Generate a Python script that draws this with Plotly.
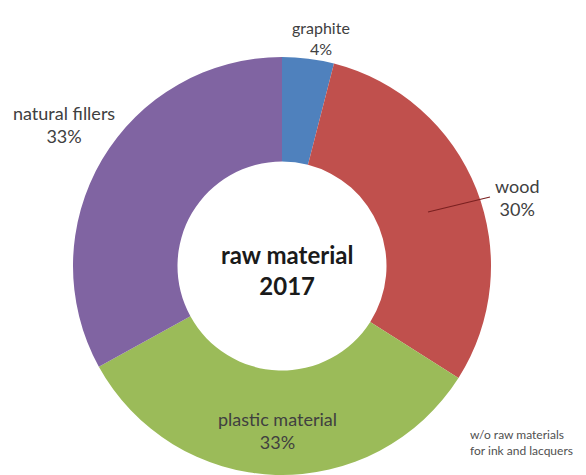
import plotly.graph_objects as go

labels = ["graphite", "wood", "plastic material", "natural fillers"]
values = [4, 30, 33, 33]
colors = ["#4F81BD", "#C0504D", "#9BBB59", "#8064A2"]
center_lines = ["raw material", "2017"]
note_lines = ["w/o raw materials", "for ink and lacquers"]

# label centre positions in pixels (x, y between the two lines)
label_pos = [(321, 38), (517, 197), (277, 430), (64, 125)]
label_size = [16, 18, 18, 18]

W, H = 586, 475
cx, cy, R = 282, 266, 209

fig = go.Figure(go.Pie(
    labels=labels, values=values, sort=False, direction="clockwise", rotation=0,
    hole=0.5, marker=dict(colors=colors, line=dict(width=0)),
    textinfo="none", hoverinfo="label+percent", showlegend=False,
    domain=dict(x=[(cx - R) / W, (cx + R) / W], y=[max(0, (H - cy - R) / H), (H - cy + R) / H]),
))

font = "Lato, 'Open Sans', sans-serif"
anns = []
total = sum(values)
for lab, val, (px, py), fs in zip(labels, values, label_pos, label_size):
    pct = round(100 * val / total)
    anns.append(dict(x=px / W, y=1 - py / H, xref="paper", yref="paper",
                     text=f"{lab}<br>{pct}%", showarrow=False,
                     font=dict(family=font, size=fs, color="#404040"),
                     xanchor="center", yanchor="middle", align="center"))

anns.append(dict(x=287 / W, y=1 - 270 / H, xref="paper", yref="paper",
                 text="<b>" + "<br>".join(center_lines) + "</b>", showarrow=False,
                 font=dict(family=font, size=24, color="#1a1a1a"),
                 xanchor="center", yanchor="middle", align="center"))
anns.append(dict(x=468 / W, y=1 - 442 / H, xref="paper", yref="paper",
                 text="<br>".join(note_lines), showarrow=False,
                 font=dict(family=font, size=12, color="#505050"),
                 xanchor="left", yanchor="middle", align="left"))

fig.update_layout(
    width=W, height=H, margin=dict(l=0, r=0, t=0, b=0),
    paper_bgcolor="white", plot_bgcolor="white",
    annotations=anns,
    shapes=[dict(type="line", xref="paper", yref="paper",
                 x0=428 / W, y0=1 - 212 / H, x1=490 / W, y1=1 - 197 / H,
                 line=dict(color="#7a2020", width=1.2))],
)
fig.write_html("out.html", config={"displayModeBar": False},
               post_script="document.body.style.margin='0';")
